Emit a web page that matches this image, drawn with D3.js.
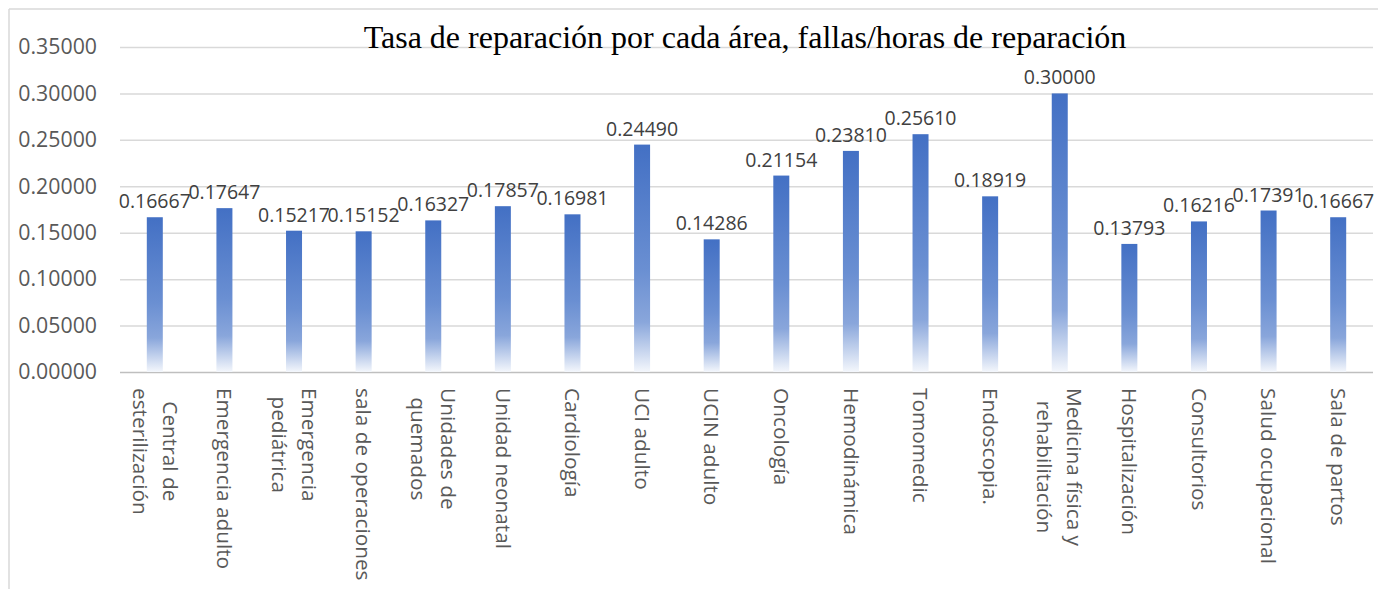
<!DOCTYPE html>
<html>
<head>
<meta charset="utf-8">
<script src="https://cdn.jsdelivr.net/npm/d3@7"></script>
<style>
  body { margin: 0; background: #fff; }
  svg { display: block; }
</style>
</head>
<body>
<div id="chart"></div>
<script>
// areas (line breaks as in the original chart)
var categories = [
    "Central de\nesterilización", "Emergencia adulto", "Emergencia\npediátrica",
    "sala de operaciones", "Unidades de\nquemados", "Unidad neonatal",
    "Cardiología", "UCI adulto", "UCIN adulto", "Oncología", "Hemodinámica",
    "Tomomedic", "Endoscopia.", "Medicina física y\nrehabilitación",
    "Hospitalización", "Consultorios", "Salud ocupacional", "Sala de partos"
];
var values = [
    0.16667, 0.17647, 0.15217, 0.15152, 0.16327, 0.17857, 0.16981, 0.24490, 0.14286,
    0.21154, 0.23810, 0.25610, 0.18919, 0.30000, 0.13793, 0.16216, 0.17391, 0.16667
];
var yTicks = [0, 0.05, 0.10, 0.15, 0.20, 0.25, 0.30, 0.35];
var title = "Tasa de reparación por cada área, fallas/horas de reparación";

var W = 1378, H = 589;
var margin = { top: 47, right: 5, bottom: 217, left: 120 };
var plotW = W - margin.left - margin.right,
    plotH = H - margin.top - margin.bottom;
var barWidth = 16;
var sans = "'Open Sans', sans-serif";

var svg = d3.select("#chart").append("svg")
    .attr("width", W)
    .attr("height", H);

// gradient like the Office fill: solid blue on top, fading to white at the base
var grad = svg.append("defs").append("linearGradient")
    .attr("id", "barFill")
    .attr("x1", 0).attr("y1", 0).attr("x2", 0).attr("y2", 1);
grad.append("stop").attr("offset", "0%").attr("stop-color", "#4370c4");
grad.append("stop").attr("offset", "55%").attr("stop-color", "#6a8fd2");
grad.append("stop").attr("offset", "78%").attr("stop-color", "#89a6db");
grad.append("stop").attr("offset", "100%").attr("stop-color", "#f4f7fc");

// chart border (only left and top visible in the crop)
svg.append("line")
    .attr("x1", 9).attr("x2", 9).attr("y1", 9).attr("y2", H)
    .style("stroke", "#d9d9d9").style("stroke-width", 1.5);
svg.append("line")
    .attr("x1", 9).attr("x2", W).attr("y1", 9).attr("y2", 9)
    .style("stroke", "#d9d9d9").style("stroke-width", 1.5);

var g = svg.append("g")
    .attr("transform", "translate(" + margin.left + "," + margin.top + ")");

var x = d3.scaleBand()
    .domain(categories)
    .range([0, plotW])
    .padding(0);

var y = d3.scaleLinear()
    .domain([0, 0.35])
    .range([plotH, 0]);

// y axis with gridlines
var yAxis = g.append("g")
    .attr("class", "y axis")
    .call(d3.axisLeft(y).tickValues(yTicks).tickSize(-plotW).tickPadding(23)
        .tickFormat(d3.format(".5f")));
yAxis.select(".domain").remove();
yAxis.selectAll("line")
    .style("stroke", function (d) { return d === 0 ? "#bfbfbf" : "#d9d9d9"; })
    .style("stroke-width", 1.5);
yAxis.selectAll("text")
    .style("font-family", sans)
    .style("font-size", "21.3px")
    .style("fill", "#595959");

// bars
g.selectAll(".bar")
    .data(values)
    .enter().append("rect")
    .attr("class", "bar")
    .attr("x", function (d, i) { return x(categories[i]) + x.bandwidth() / 2 - barWidth / 2; })
    .attr("y", function (d) { return y(d); })
    .attr("width", barWidth)
    .attr("height", function (d) { return plotH - y(d); })
    .style("fill", "url(#barFill)");

// data labels
g.selectAll(".value")
    .data(values)
    .enter().append("text")
    .attr("class", "value")
    .attr("x", function (d, i) { return x(categories[i]) + x.bandwidth() / 2; })
    .attr("y", function (d) { return y(d) - 9; })
    .style("text-anchor", "middle")
    .style("font-family", sans)
    .style("font-size", "19.5px")
    .style("fill", "#404040")
    .text(function (d) { return d3.format(".5f")(d); });

// category labels, rotated 90deg, first line on the right, lines centred on each other
var lineH = 30;
var cat = g.selectAll(".cat")
    .data(categories)
    .enter().append("g")
    .attr("class", "cat")
    .attr("transform", function (d) {
        return "translate(" + (x(d) + x.bandwidth() / 2) + "," + (plotH + 16) + ") rotate(90)";
    });
cat.each(function (d) {
    var lines = d.split("\n");
    var el = d3.select(this);
    var texts = lines.map(function (t, k) {
        return el.append("text")
            .attr("y", (k - (lines.length - 1) / 2) * lineH)
            .attr("dy", "0.35em")
            .style("font-family", sans)
            .style("font-size", "20.8px")
            .style("fill", "#595959")
            .text(t);
    });
    var maxLen = d3.max(texts, function (t) { return t.node().getComputedTextLength(); });
    texts.forEach(function (t) {
        t.attr("x", maxLen / 2).style("text-anchor", "middle");
    });
});

// title
svg.append("text")
    .attr("x", 745)
    .attr("y", 48)
    .style("text-anchor", "middle")
    .style("font-family", "'Liberation Serif', 'Times New Roman', serif")
    .style("font-size", "32px")
    .style("fill", "#000")
    .text(title);
</script>
</body>
</html>
